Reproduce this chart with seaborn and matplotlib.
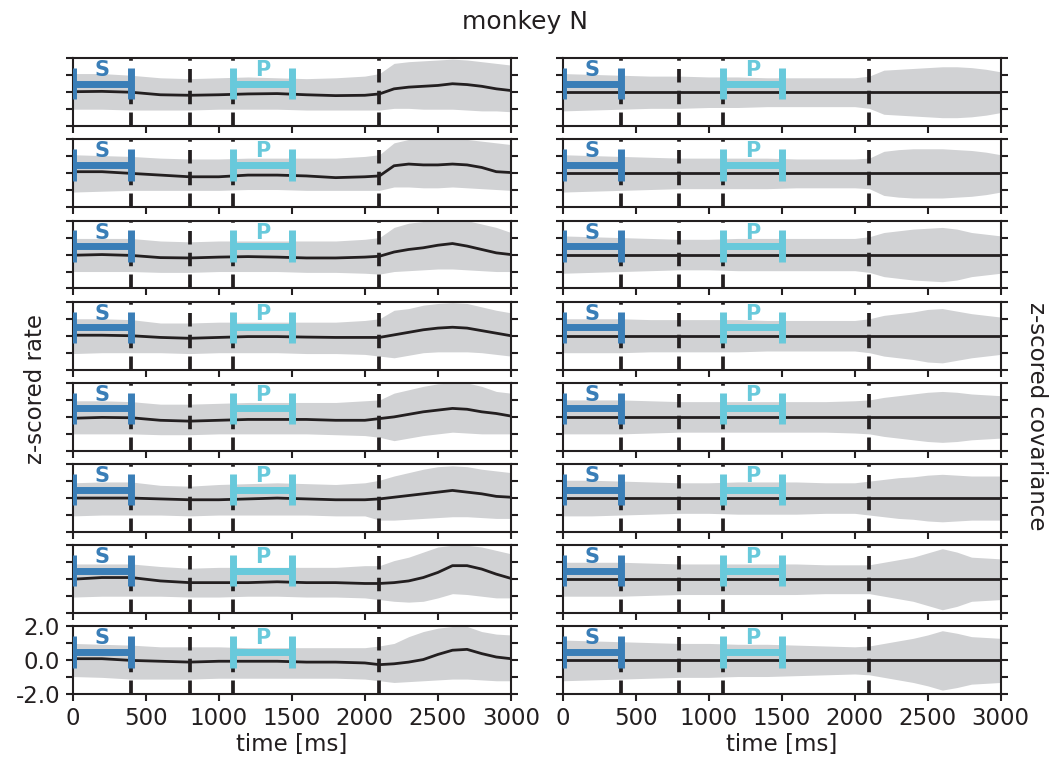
import matplotlib
matplotlib.use("Agg")
import matplotlib.pyplot as plt
import seaborn as sns

# time axis (ms)
t_ms = [0, 200, 400, 600, 800, 1000, 1200, 1400, 1600, 1800, 2000,
        2100, 2200, 2300, 2400, 2500, 2600, 2700, 2800, 2900, 3000]

# task epochs: sample (S) and probe (P)
epoch_labels = ["S", "P"]
epoch_start = [0, 1100]
epoch_end = [400, 1500]
epoch_colors = ["#3a7eb7", "#68c9db"]

# dashed event markers (ms)
event_times = [400, 800, 1100, 2100]

# z-scored rate: mean and band edges for the 8 rows (left column)
rate_mean = [
    [0.03, 0.05, 0.0, -0.15, -0.18, -0.15, -0.1, -0.08, -0.15, -0.2, -0.18, -0.1, 0.2, 0.3, 0.35, 0.4, 0.5, 0.45, 0.35, 0.2, 0.1],
    [0.1, 0.1, 0.0, -0.1, -0.2, -0.2, -0.1, -0.1, -0.15, -0.25, -0.2, -0.15, 0.45, 0.55, 0.5, 0.5, 0.55, 0.5, 0.35, 0.1, 0.05],
    [-0.04, 0.0, -0.05, -0.18, -0.2, -0.15, -0.12, -0.15, -0.2, -0.2, -0.15, -0.1, 0.15, 0.3, 0.4, 0.55, 0.65, 0.5, 0.3, 0.1, 0.0],
    [0.03, 0.03, 0.0, -0.1, -0.15, -0.1, -0.05, -0.05, -0.08, -0.1, -0.1, -0.1, 0.05, 0.2, 0.35, 0.45, 0.5, 0.45, 0.3, 0.15, 0.0],
    [-0.08, -0.03, -0.05, -0.2, -0.25, -0.2, -0.15, -0.15, -0.15, -0.2, -0.2, -0.1, 0.0, 0.15, 0.3, 0.4, 0.5, 0.45, 0.3, 0.2, 0.05],
    [0.0, 0.0, 0.0, -0.05, -0.1, -0.1, -0.05, 0.0, -0.05, -0.1, -0.1, -0.05, 0.05, 0.15, 0.25, 0.35, 0.45, 0.35, 0.25, 0.1, 0.05],
    [0.0, 0.1, 0.1, -0.1, -0.2, -0.2, -0.2, -0.15, -0.2, -0.2, -0.25, -0.25, -0.2, -0.1, 0.1, 0.4, 0.8, 0.8, 0.6, 0.3, 0.05],
    [0.1, 0.1, 0.0, -0.05, -0.1, -0.05, -0.05, -0.05, -0.1, -0.1, -0.15, -0.25, -0.2, -0.1, 0.05, 0.35, 0.6, 0.65, 0.4, 0.2, 0.1],
]
rate_upper = [
    [1.1, 1.1, 1.0, 0.85, 0.8, 0.85, 0.9, 0.85, 0.8, 0.85, 0.95, 1.1, 1.7, 1.8, 1.85, 1.9, 1.95, 1.9, 1.8, 1.7, 1.6],
    [1.1, 1.05, 1.0, 0.9, 0.85, 0.85, 0.9, 0.9, 0.9, 0.9, 1.0, 1.1, 1.8, 2.0, 2.0, 2.0, 2.0, 2.0, 1.9, 1.8, 1.7],
    [0.95, 0.95, 0.95, 0.8, 0.75, 0.8, 0.8, 0.8, 0.8, 0.8, 0.9, 1.0, 1.6, 1.85, 1.95, 2.0, 2.0, 2.0, 1.8, 1.6, 1.3],
    [1.0, 1.0, 0.95, 0.75, 0.75, 0.8, 0.8, 0.8, 0.8, 0.8, 0.9, 1.0, 1.5, 1.6, 1.8, 1.9, 1.95, 1.9, 1.7, 1.5, 1.35],
    [0.95, 0.95, 0.9, 0.75, 0.75, 0.8, 0.85, 0.85, 0.85, 0.85, 0.95, 1.0, 1.4, 1.6, 1.8, 1.95, 2.0, 2.0, 1.8, 1.5, 1.4],
    [0.9, 0.95, 0.95, 0.75, 0.7, 0.8, 0.85, 0.9, 0.85, 0.8, 0.9, 1.05, 1.3, 1.5, 1.7, 1.85, 1.9, 1.85, 1.7, 1.6, 1.5],
    [0.9, 0.9, 0.9, 0.75, 0.65, 0.7, 0.7, 0.7, 0.7, 0.7, 0.8, 0.8, 1.1, 1.3, 1.6, 1.9, 2.0, 2.0, 1.9, 1.7, 1.5],
    [1.0, 0.95, 0.9, 0.8, 0.8, 0.8, 0.75, 0.75, 0.75, 0.75, 0.75, 0.85, 1.0, 1.4, 1.7, 1.9, 2.0, 2.0, 1.7, 1.55, 1.5],
]
rate_lower = [
    [-1.0, -1.0, -1.05, -1.05, -1.05, -1.0, -1.0, -1.0, -1.05, -1.05, -1.05, -1.05, -0.95, -0.95, -1.0, -1.0, -1.0, -1.05, -1.1, -1.1, -1.15],
    [-1.1, -1.05, -1.0, -1.0, -1.0, -1.0, -0.95, -0.95, -1.0, -1.0, -1.0, -1.0, -0.8, -0.8, -0.85, -0.85, -0.8, -0.85, -0.9, -0.95, -1.0],
    [-1.0, -1.0, -1.0, -1.05, -1.05, -1.0, -1.0, -1.0, -1.05, -1.05, -1.1, -1.15, -1.0, -0.95, -0.9, -0.85, -0.85, -0.9, -0.95, -1.0, -1.0],
    [-1.05, -1.0, -1.0, -1.0, -1.05, -1.0, -1.0, -1.0, -1.05, -1.05, -1.1, -1.2, -1.3, -1.15, -1.0, -0.95, -0.95, -0.95, -1.0, -1.1, -1.2],
    [-1.0, -1.0, -1.0, -1.05, -1.05, -1.0, -1.0, -1.0, -1.0, -1.05, -1.1, -1.2, -1.4, -1.25, -1.1, -1.0, -0.9, -0.95, -1.0, -1.0, -1.0],
    [-1.05, -1.0, -1.0, -1.0, -1.05, -1.0, -1.0, -1.0, -1.0, -1.05, -1.05, -1.3, -1.3, -1.25, -1.2, -1.15, -1.1, -1.1, -1.15, -1.2, -1.2],
    [-1.05, -1.0, -1.0, -1.0, -1.05, -1.05, -1.0, -1.0, -1.05, -1.05, -1.1, -1.2, -1.3, -1.35, -1.3, -1.1, -0.85, -0.9, -1.0, -1.1, -1.1],
    [-0.95, -1.0, -1.1, -1.1, -1.1, -1.05, -1.05, -1.05, -1.05, -1.05, -1.1, -1.2, -1.3, -1.25, -1.2, -1.15, -1.1, -1.1, -1.15, -1.2, -1.2],
]

# z-scored covariance: mean and band half-width for the 8 rows (right column)
cov_mean = [0.0, 0.0, 0.0, 0.0, 0.0, 0.0, 0.0, 0.0, 0.0, 0.0, 0.0,
            0.0, 0.0, 0.0, 0.0, 0.0, 0.0, 0.0, 0.0, 0.0, 0.0]
cov_halfwidth = [
    [1.1, 1.05, 1.0, 0.95, 0.95, 0.9, 0.9, 0.85, 0.85, 0.85, 0.85, 0.95, 1.3, 1.35, 1.4, 1.45, 1.5, 1.5, 1.45, 1.35, 1.2],
    [1.1, 1.05, 1.0, 0.95, 0.9, 0.9, 0.9, 0.9, 0.85, 0.85, 0.85, 0.9, 1.3, 1.4, 1.45, 1.45, 1.45, 1.4, 1.35, 1.25, 1.1],
    [1.1, 1.05, 1.0, 0.95, 0.9, 0.9, 0.95, 0.95, 0.95, 0.95, 0.95, 1.05, 1.3, 1.4, 1.5, 1.55, 1.6, 1.5, 1.3, 1.2, 1.1],
    [1.0, 1.0, 1.0, 0.95, 0.95, 0.95, 0.95, 0.9, 0.9, 0.9, 0.9, 1.0, 1.2, 1.3, 1.4, 1.55, 1.6, 1.45, 1.3, 1.2, 1.1],
    [1.0, 1.0, 1.0, 0.95, 0.9, 0.9, 0.9, 0.9, 0.9, 0.9, 0.95, 1.0, 1.15, 1.25, 1.35, 1.45, 1.5, 1.45, 1.35, 1.3, 1.25],
    [1.05, 1.05, 1.0, 0.95, 0.9, 0.9, 0.95, 0.95, 0.95, 0.9, 0.9, 1.0, 1.1, 1.2, 1.25, 1.35, 1.4, 1.35, 1.3, 1.3, 1.3],
    [1.0, 1.0, 1.0, 0.95, 0.9, 0.9, 0.9, 0.9, 0.9, 0.85, 0.85, 0.85, 1.0, 1.15, 1.3, 1.55, 1.8, 1.6, 1.3, 1.25, 1.2],
    [1.2, 1.15, 1.1, 1.05, 1.0, 1.0, 0.95, 0.95, 0.9, 0.85, 0.8, 0.85, 1.0, 1.15, 1.3, 1.5, 1.75, 1.6, 1.4, 1.35, 1.3],
]

x_ticks = [0, 500, 1000, 1500, 2000, 2500, 3000]
y_ticks = [-2, -1, 0, 1, 2]
y_ticklabels = ["-2.0", "", "0.0", "", "2.0"]

ink = "#231f20"
band = "#d1d2d4"

sns.set_style("ticks")
plt.rcParams.update({
    "font.family": ["DejaVu Sans"],
    "font.size": 16.5,
    "axes.linewidth": 1.5,
    "axes.edgecolor": ink,
    "xtick.major.width": 1.5,
    "ytick.major.width": 1.5,
    "xtick.major.size": 5,
    "ytick.major.size": 5,
    "xtick.major.pad": 4,
    "ytick.major.pad": 4,
    "xtick.labelsize": 16.5,
    "ytick.labelsize": 16.5,
    "xtick.color": ink,
    "ytick.color": ink,
    "text.color": ink,
    "axes.labelcolor": ink,
})

fig, axes = plt.subplots(8, 2, figsize=(10.62, 7.61), dpi=100)
fig.subplots_adjust(left=0.0685, right=0.9423, top=0.9234, bottom=0.0876,
                    hspace=0.196, wspace=0.118)

for row in range(8):
    for col in range(2):
        ax = axes[row, col]
        if col == 0:
            mean = rate_mean[row]
            lo = rate_lower[row]
            hi = rate_upper[row]
        else:
            mean = cov_mean
            lo = [m - h for m, h in zip(cov_mean, cov_halfwidth[row])]
            hi = [m + h for m, h in zip(cov_mean, cov_halfwidth[row])]

        ax.fill_between(t_ms, lo, hi, color=band, lw=0, zorder=1)
        sns.lineplot(x=t_ms, y=mean, ax=ax, color=ink, lw=2.0, zorder=2)

        for ev in event_times:
            ax.axvline(ev, color=ink, lw=2.7, ls=(0, (3.6, 2.2)), zorder=3)

        for lab, s, e, c in zip(epoch_labels, epoch_start, epoch_end, epoch_colors):
            ax.hlines(0.5, s, e, color=c, lw=5, zorder=4)
            ax.vlines([s, e], -0.42, 1.42, color=c, lw=5, zorder=4)
            ax.text((s + e) / 2, 1.3, lab, color=c, fontsize=15,
                    fontweight="bold", ha="center", va="center", zorder=5)

        ax.set_xlim(0, 3000)
        ax.set_ylim(-2, 2)
        ax.set_xticks(x_ticks)
        ax.set_yticks(y_ticks)
        ax.tick_params(axis="y", left=True, right=True, direction="out")
        ax.tick_params(axis="x", bottom=True, direction="out")

        if row == 7:
            ax.set_xticklabels([str(v) for v in x_ticks])
            ax.set_xlabel("time [ms]", fontsize=16.5, labelpad=2)
        else:
            ax.set_xticklabels([])
        if row == 7 and col == 0:
            ax.set_yticklabels(y_ticklabels)
        else:
            ax.set_yticklabels([])
        ax.set_ylabel("")

fig.text(0.494, 0.971, "monkey N", ha="center", va="center", fontsize=18)
fig.text(0.033, 0.489, "z-scored rate", rotation=90, ha="center", va="center", fontsize=16.5)
fig.text(0.976, 0.453, "z-scored covariance", rotation=-90, ha="center", va="center", fontsize=16.5)

fig.savefig("out.png", dpi=100)
